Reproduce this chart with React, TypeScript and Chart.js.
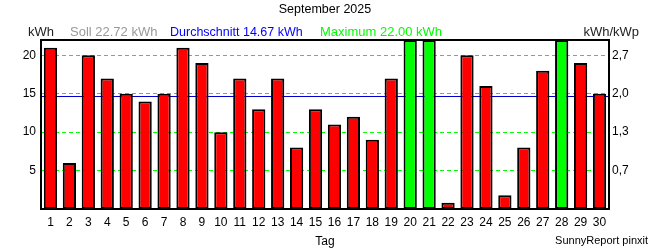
import React, { useEffect, useRef } from "react";
import { Chart, registerables } from "chart.js";

Chart.register(...registerables);

const days = ["1","2","3","4","5","6","7","8","9","10","11","12","13","14","15","16","17","18","19","20","21","22","23","24","25","26","27","28","29","30"];
const energyKWh = [21, 6, 20, 17, 15, 14, 15, 21, 19, 10, 17, 13, 17, 8, 13, 11, 12, 9, 17, 22, 22, 0.8, 20, 16, 1.8, 8, 18, 22, 19, 15];
const leftTicks = [5, 10, 15, 20];
const rightTickLabels = ["0,7", "1,3", "2,0", "2,7"];
const targetKWh = 22.72;
const averageKWh = 14.67;
const maximumKWh = 22.0;
const yMax = 22;
const chartTitle = "September 2025";
const xTitle = "Tag";
const credit = "SunnyReport pinxit";

const FONT = "'Liberation Sans', Arial, sans-serif";

const overlayPlugin = {
  id: "overlay",
  beforeDatasetsDraw(chart: any) {
    const { ctx, chartArea, scales } = chart;
    const y = scales.y.getPixelForValue(averageKWh);
    ctx.save();
    ctx.strokeStyle = "#0000cc";
    ctx.lineWidth = 1;
    ctx.beginPath();
    ctx.moveTo(chartArea.left, Math.round(y) + 0.5);
    ctx.lineTo(chartArea.right, Math.round(y) + 0.5);
    ctx.stroke();
    ctx.restore();
  },
  afterDraw(chart: any) {
    const { ctx, chartArea } = chart;
    ctx.save();
    // frame
    ctx.strokeStyle = "#000";
    ctx.lineWidth = 2;
    ctx.strokeRect(chartArea.left, chartArea.top, chartArea.right - chartArea.left, chartArea.bottom - chartArea.top);
    // title
    ctx.font = `12.5px ${FONT}`;
    ctx.textBaseline = "alphabetic";
    ctx.fillStyle = "#000";
    ctx.textAlign = "center";
    ctx.fillText(chartTitle, 325, 13);
    // header line
    ctx.textAlign = "left";
    ctx.font = `13px ${FONT}`;
    ctx.fillStyle = "#222";
    ctx.fillText("kWh", 28, 36);
    ctx.fillStyle = "#999999";
    ctx.fillText(`Soll ${targetKWh.toFixed(2)} kWh`, 70, 36);
    ctx.font = `12.5px ${FONT}`;
    ctx.fillStyle = "#0000ff";
    ctx.fillText(`Durchschnitt ${averageKWh.toFixed(2)} kWh`, 170, 36);
    ctx.font = `13px ${FONT}`;
    ctx.fillStyle = "#00ff00";
    ctx.fillText(`Maximum ${maximumKWh.toFixed(2)} kWh`, 320, 36);
    ctx.fillStyle = "#222";
    ctx.textAlign = "right";
    ctx.fillText("kWh/kWp", 639, 36);
    // credit
    ctx.font = `11px ${FONT}`;
    ctx.fillStyle = "#000";
    ctx.textAlign = "right";
    ctx.fillText(credit, 648, 244);
    ctx.restore();
  },
};

export default function App() {
  const ref = useRef<HTMLCanvasElement | null>(null);

  useEffect(() => {
    document.body.style.margin = "0";
    const canvas = ref.current!;
    const colors = energyKWh.map((v) => (v >= maximumKWh ? "#00ff00" : "#ff0000"));
    const chart = new Chart(canvas, {
      type: "bar",
      data: {
        labels: days,
        datasets: [
          {
            data: energyKWh,
            backgroundColor: colors,
            borderColor: "#000",
            borderWidth: 2,
            borderSkipped: false,
            categoryPercentage: 1,
            barPercentage: 0.7,
          },
        ],
      },
      options: {
        responsive: false,
        animation: false,
        layout: { padding: { top: 40, left: 0, right: 0, bottom: 0 } },
        plugins: {
          legend: { display: false },
          tooltip: { enabled: false },
          title: { display: false },
        },
        scales: {
          x: {
            type: "category",
            grid: { display: false, drawTicks: false },
            border: { display: false },
            ticks: {
              autoSkip: false,
              maxRotation: 0,
              minRotation: 0,
              padding: 6,
              color: "#000",
              font: { family: FONT, size: 12 },
            },
            title: {
              display: true,
              text: xTitle,
              color: "#000",
              font: { family: FONT, size: 12 },
              padding: { top: 0, bottom: 1 },
            },
            afterFit: (s: any) => {
              s.height = 41;
            },
          },
          y: {
            type: "linear",
            position: "left",
            min: 0,
            max: yMax,
            afterBuildTicks: (s: any) => {
              s.ticks = leftTicks.map((v) => ({ value: v }));
            },
            grid: {
              drawTicks: false,
              color: "#00ff00",
              lineWidth: 1,
            },
            border: { display: false, dash: [4, 3] },
            ticks: {
              padding: 5,
              color: "#000",
              font: { family: FONT, size: 12 },
            },
            afterFit: (s: any) => {
              s.width = 41;
            },
          },
          y2: {
            type: "linear",
            position: "right",
            min: 0,
            max: yMax,
            afterBuildTicks: (s: any) => {
              s.ticks = leftTicks.map((v) => ({ value: v }));
            },
            grid: { display: false, drawTicks: false },
            border: { display: false },
            ticks: {
              padding: 3,
              color: "#000",
              font: { family: FONT, size: 12 },
              callback: (_v: any, i: number) => rightTickLabels[i],
            },
            afterFit: (s: any) => {
              s.width = 41;
            },
          },
        },
      },
      plugins: [overlayPlugin],
    });
    return () => chart.destroy();
  }, []);

  return <canvas ref={ref} width={650} height={250} style={{ display: "block" }} />;
}
